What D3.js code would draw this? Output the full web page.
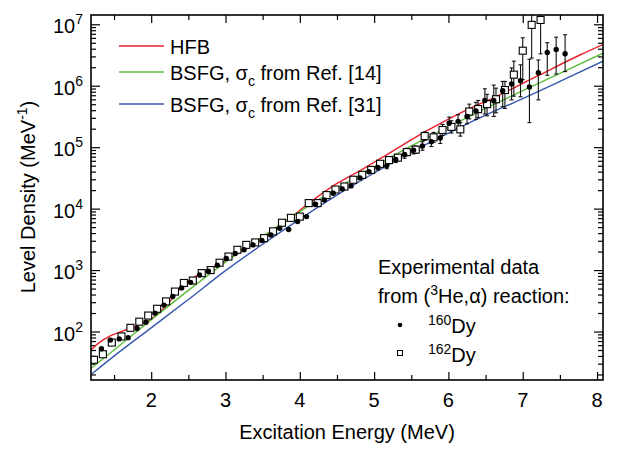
<!DOCTYPE html>
<html>
<head>
<meta charset="utf-8">
<script src="https://cdn.jsdelivr.net/npm/d3@7"></script>
<style>
  body { margin: 0; background: #fff; }
  svg { display: block; font-family: "Liberation Sans", Arial, Helvetica, sans-serif; }
</style>
</head>
<body>
<svg width="620" height="451"></svg>
<script>
// axes
const xDomain = [1.19, 8.08];
const yDomainLog = [1.211, 7.151];
const xMajor = [2, 3, 4, 5, 6, 7, 8];
const xMinor = [1.5, 2.5, 3.5, 4.5, 5.5, 6.5, 7.5];
const yMajorExp = [2, 3, 4, 5, 6, 7];

// theory curves (log10 of level density)
const hfbE = [1.19, 1.3, 1.45, 1.6, 1.72, 1.9, 2.0, 2.1, 2.2, 2.3, 2.4, 2.5, 2.7, 2.9, 3.1, 3.3, 3.6, 3.85, 4.05, 4.27, 4.5, 4.8, 5.2, 5.7, 6.2, 6.6, 7.2, 7.77, 8.08];
const hfbLog = [1.70, 1.82, 1.93, 2.00, 2.06, 2.14, 2.20, 2.30, 2.42, 2.56, 2.71, 2.82, 2.96, 3.08, 3.22, 3.36, 3.62, 3.82, 4.02, 4.22, 4.41, 4.61, 4.90, 5.26, 5.58, 5.80, 6.16, 6.50, 6.67];
const bsfgE = [1.19, 1.5, 2.0, 2.5, 3.0, 3.5, 4.0, 4.5, 5.0, 5.5, 6.0, 6.5, 7.0, 7.5, 8.08];
const bsfg14Log = [1.40, 1.70, 2.19, 2.67, 3.13, 3.55, 3.95, 4.33, 4.68, 5.02, 5.33, 5.63, 5.92, 6.20, 6.53];
const bsfg31Log = [1.30, 1.60, 2.06, 2.52, 2.99, 3.42, 3.83, 4.22, 4.58, 4.92, 5.23, 5.52, 5.79, 6.07, 6.40];

// 160Dy data
const dy160E = [1.33, 1.45, 1.57, 1.69, 1.81, 1.93, 2.05, 2.17, 2.29, 2.41, 2.53, 2.65, 2.77, 2.89, 3.01, 3.13, 3.25, 3.37, 3.49, 3.61, 3.73, 3.85, 3.97, 4.09, 4.21, 4.33, 4.45, 4.57, 4.69, 4.81, 4.93, 5.05, 5.17, 5.29, 5.41, 5.53, 5.65, 5.77, 5.89, 6.01, 6.13, 6.25, 6.37, 6.49, 6.61, 6.73, 6.85, 6.97, 7.09, 7.21, 7.33, 7.45, 7.57];
const dy160Log = [1.72, 1.86, 1.88, 1.90, 2.05, 2.15, 2.30, 2.43, 2.57, 2.71, 2.80, 2.92, 2.98, 3.08, 3.19, 3.27, 3.33, 3.41, 3.48, 3.57, 3.68, 3.66, 3.79, 3.87, 4.07, 4.14, 4.25, 4.32, 4.37, 4.50, 4.60, 4.67, 4.70, 4.80, 4.88, 4.95, 5.02, 5.09, 5.15, 5.39, 5.42, 5.50, 5.59, 5.76, 5.76, 5.92, 6.03, 6.08, 5.98, 6.21, 6.54, 6.59, 6.52];
const dy160ErrUp = [0,0,0,0,0,0,0,0,0,0,0,0,0,0,0,0,0,0,0,0,0,0,0,0,0,0,0,0,0,0,0, 0.04, 0.05, 0.05, 0.06, 0.06, 0.07, 0.08, 0.09, 0.10, 0.11, 0.12, 0.14, 0.19, 0.25, 0.15, 0.26, 0.26, 0.45, 0.21, 0.16, 0.20, 0.31];
const dy160ErrDn = [0,0,0,0,0,0,0,0,0,0,0,0,0,0,0,0,0,0,0,0,0,0,0,0,0,0,0,0,0,0,0, 0.04, 0.05, 0.05, 0.06, 0.06, 0.07, 0.08, 0.09, 0.10, 0.11, 0.12, 0.14, 0.22, 0.26, 0.26, 0.26, 0.26, 0.58, 0.44, 0.37, 0.40, 0.29];

// 162Dy data
const dy162E = [1.23, 1.35, 1.47, 1.60, 1.72, 1.84, 1.96, 2.08, 2.20, 2.32, 2.44, 2.56, 2.68, 2.80, 2.92, 3.04, 3.16, 3.28, 3.40, 3.52, 3.64, 3.76, 3.88, 4.00, 4.12, 4.24, 4.36, 4.48, 4.60, 4.72, 4.84, 4.96, 5.08, 5.20, 5.32, 5.44, 5.56, 5.68, 5.80, 5.92, 6.04, 6.16, 6.28, 6.40, 6.52, 6.64, 6.76, 6.88, 7.00, 7.12, 7.24];
const dy162Log = [1.54, 1.63, 1.82, 1.92, 2.06, 2.16, 2.26, 2.37, 2.49, 2.65, 2.79, 2.83, 2.95, 3.00, 3.12, 3.22, 3.33, 3.41, 3.45, 3.52, 3.63, 3.77, 3.85, 3.87, 4.09, 4.09, 4.22, 4.31, 4.36, 4.47, 4.55, 4.63, 4.73, 4.79, 4.83, 4.92, 4.96, 5.18, 5.16, 5.28, 5.33, 5.29, 5.58, 5.62, 5.70, 5.78, 5.93, 6.18, 6.57, 6.99, 7.07];
const dy162ErrUp = [0,0,0,0,0,0,0,0,0,0,0,0,0,0,0,0,0,0,0,0,0,0,0,0,0,0,0,0,0,0,0,0, 0.04, 0.05, 0.05, 0.06, 0.06, 0.07, 0.08, 0.09, 0.10, 0.11, 0.12, 0.14, 0.16, 0.18, 0.14, 0.22, 0.21, 0.22, 0.25];
const dy162ErrDn = [0,0,0,0,0,0,0,0,0,0,0,0,0,0,0,0,0,0,0,0,0,0,0,0,0,0,0,0,0,0,0,0, 0.04, 0.05, 0.05, 0.06, 0.06, 0.07, 0.08, 0.09, 0.10, 0.11, 0.12, 0.14, 0.19, 0.22, 0.30, 0.35, 0.47, 0.54, 0.55];

const colors = { hfb: "#e8202a", b14: "#5dbb3b", b31: "#3557b0" };

const svg = d3.select("svg");
const area = { left: 91, right: 603, top: 15, bottom: 380 };
const pow = v => Math.pow(10, v);

const x = d3.scaleLinear().domain(xDomain).range([area.left, area.right]);
const y = d3.scaleLog().domain(yDomainLog.map(pow)).range([area.bottom, area.top]);

// minor log ticks
let yMinor = [];
for (let k = 1; k <= 7; k++) {
    for (let m = 2; m <= 9; m++) {
        const v = m * pow(k);
        if (v > y.domain()[0] && v < y.domain()[1]) yMinor.push(v);
    }
}

function addAxis(axis, tx, ty) {
    const g = svg.append("g")
        .attr("transform", `translate(${tx}, ${ty})`)
        .call(axis);
    g.select(".domain").remove();
    g.selectAll("text").remove();
    g.selectAll("line").attr("stroke", "#000").attr("stroke-width", 1.2);
}

addAxis(d3.axisBottom(x).tickValues(xMajor).tickSize(-8), 0, area.bottom);
addAxis(d3.axisBottom(x).tickValues(xMinor).tickSize(-5), 0, area.bottom);
addAxis(d3.axisTop(x).tickValues(xMajor).tickSize(-8), 0, area.top);
addAxis(d3.axisTop(x).tickValues(xMinor).tickSize(-5), 0, area.top);
addAxis(d3.axisLeft(y).tickValues(yMajorExp.map(pow)).tickSize(-9), area.left, 0);
addAxis(d3.axisLeft(y).tickValues(yMinor).tickSize(-5), area.left, 0);
addAxis(d3.axisRight(y).tickValues(yMajorExp.map(pow)).tickSize(-9), area.right, 0);
addAxis(d3.axisRight(y).tickValues(yMinor).tickSize(-5), area.right, 0);

// clip
svg.append("clipPath").attr("id", "plotClip")
    .append("rect")
    .attr("x", area.left).attr("y", area.top)
    .attr("width", area.right - area.left).attr("height", area.bottom - area.top);

const plot = svg.append("g").attr("clip-path", "url(#plotClip)");

// curves
const line = d3.line()
    .x(d => x(d[0]))
    .y(d => y(pow(d[1])))
    .curve(d3.curveMonotoneX);

const curves = [
    [hfbE, hfbLog, colors.hfb],
    [bsfgE, bsfg14Log, colors.b14],
    [bsfgE, bsfg31Log, colors.b31]
];
curves.forEach(c => {
    plot.append("path")
        .datum(d3.zip(c[0], c[1]))
        .attr("d", line)
        .attr("fill", "none")
        .attr("stroke", c[2])
        .attr("stroke-width", 1.4);
});

// error bars
function drawErrors(es, vals, up, dn) {
    const rows = es.map((e, i) => ({ e: e, v: vals[i], up: up[i], dn: dn[i] }))
        .filter(d => d.up > 0 || d.dn > 0);
    const g = plot.append("g").attr("stroke", "#111").attr("stroke-width", 1.1);
    g.selectAll(".eb")
        .data(rows)
        .enter()
        .append("line")
        .attr("x1", d => x(d.e)).attr("x2", d => x(d.e))
        .attr("y1", d => y(pow(d.v + d.up)))
        .attr("y2", d => y(pow(d.v - d.dn)));
    g.selectAll(".capT")
        .data(rows)
        .enter()
        .append("line")
        .attr("x1", d => x(d.e) - 2).attr("x2", d => x(d.e) + 2)
        .attr("y1", d => y(pow(d.v + d.up)))
        .attr("y2", d => y(pow(d.v + d.up)));
    g.selectAll(".capB")
        .data(rows)
        .enter()
        .append("line")
        .attr("x1", d => x(d.e) - 2).attr("x2", d => x(d.e) + 2)
        .attr("y1", d => y(pow(d.v - d.dn)))
        .attr("y2", d => y(pow(d.v - d.dn)));
}
drawErrors(dy162E, dy162Log, dy162ErrUp, dy162ErrDn);
drawErrors(dy160E, dy160Log, dy160ErrUp, dy160ErrDn);

// 162Dy squares
const sq = 7;
plot.selectAll(".sq")
    .data(d3.zip(dy162E, dy162Log))
    .enter()
    .append("rect")
    .attr("x", d => x(d[0]) - sq / 2)
    .attr("y", d => y(pow(d[1])) - sq / 2)
    .attr("width", sq).attr("height", sq)
    .attr("fill", "#fff")
    .attr("stroke", "#000")
    .attr("stroke-width", 1.1);

// 160Dy circles
plot.selectAll(".dot")
    .data(d3.zip(dy160E, dy160Log))
    .enter()
    .append("circle")
    .attr("cx", d => x(d[0]))
    .attr("cy", d => y(pow(d[1])))
    .attr("r", 2.7)
    .attr("fill", "#000");

// frame
svg.append("rect")
    .attr("x", area.left).attr("y", area.top)
    .attr("width", area.right - area.left).attr("height", area.bottom - area.top)
    .attr("fill", "none")
    .attr("stroke", "#000")
    .attr("stroke-width", 1.6);

// tick labels
svg.selectAll(".xl")
    .data(xMajor)
    .enter()
    .append("text")
    .attr("x", d => x(d))
    .attr("y", 407)
    .attr("text-anchor", "middle")
    .attr("font-size", 20)
    .text(d => d);

const yl = svg.selectAll(".yl")
    .data(yMajorExp)
    .enter()
    .append("text")
    .attr("x", 83)
    .attr("y", d => y(pow(d)) + 9)
    .attr("text-anchor", "end")
    .attr("font-size", 20);
yl.append("tspan").text("10");
yl.append("tspan").attr("font-size", 14).attr("dy", -9).text(d => d);

// axis titles
svg.append("text")
    .attr("x", 347)
    .attr("y", 439)
    .attr("text-anchor", "middle")
    .attr("font-size", 20)
    .text("Excitation Energy (MeV)");

const yt = svg.append("text")
    .attr("transform", "translate(35, 197) rotate(-90)")
    .attr("text-anchor", "middle")
    .attr("font-size", 20);
yt.append("tspan").text("Level Density (MeV");
yt.append("tspan").attr("font-size", 14).attr("dy", -8).text("-1");
yt.append("tspan").attr("dy", 8).text(")");

// legend, theory
const legRows = [
    { c: colors.hfb, y: 46, name: "HFB", ref: null },
    { c: colors.b14, y: 72, name: "BSFG, ", ref: "14" },
    { c: colors.b31, y: 104, name: "BSFG, ", ref: "31" }
];
legRows.forEach(r => {
    svg.append("line")
        .attr("x1", 119).attr("x2", 164)
        .attr("y1", r.y).attr("y2", r.y)
        .attr("stroke", r.c).attr("stroke-width", 1.4);
    const t = svg.append("text")
        .attr("x", 170).attr("y", r.y + 8)
        .attr("font-size", 20);
    t.append("tspan").text(r.name);
    if (r.ref) {
        t.append("tspan").text("σ");
        t.append("tspan").attr("font-size", 14).attr("dy", 6).text("c");
        t.append("tspan").attr("dy", -6).text(" from Ref. [" + r.ref + "]");
    }
});

// legend, experiment
svg.append("text").attr("x", 378).attr("y", 274).attr("font-size", 20).text("Experimental data");
const t2 = svg.append("text").attr("x", 378).attr("y", 303).attr("font-size", 20);
t2.append("tspan").text("from (");
t2.append("tspan").attr("font-size", 14).attr("dy", -8).text("3");
t2.append("tspan").attr("dy", 8).text("He,α) reaction:");

svg.append("circle").attr("cx", 400).attr("cy", 325).attr("r", 2.3).attr("fill", "#000");
svg.append("rect").attr("x", 397.5).attr("y", 350.5).attr("width", 5).attr("height", 5)
    .attr("fill", "#fff").attr("stroke", "#000").attr("stroke-width", 1);

[["160", 333], ["162", 362]].forEach(r => {
    const t = svg.append("text").attr("x", 428).attr("y", r[1]).attr("font-size", 20);
    t.append("tspan").attr("font-size", 14).attr("dy", -8).text(r[0]);
    t.append("tspan").attr("dy", 8).text("Dy");
});
</script>
</body>
</html>
